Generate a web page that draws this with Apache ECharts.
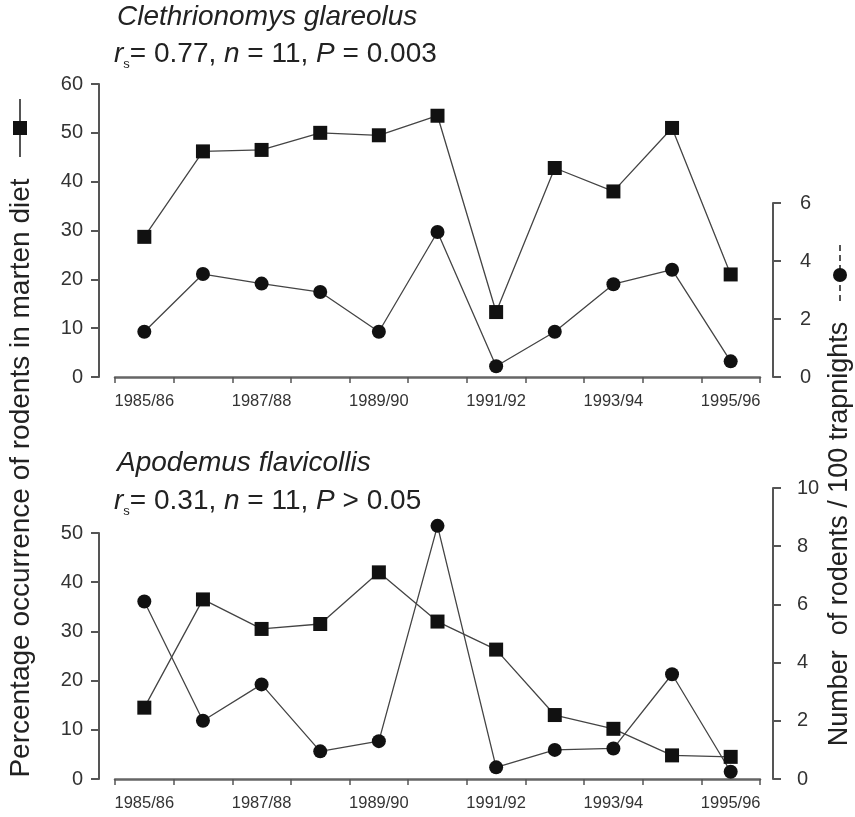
<!DOCTYPE html>
<html>
<head>
<meta charset="utf-8">
<script src="https://cdn.jsdelivr.net/npm/echarts@6/dist/echarts.min.js"></script>
<style>html,body{margin:0;padding:0;background:#fff}#c{width:855px;height:817px}</style>
</head>
<body>
<div id="c"></div>
<script>
const seasons = ['1985/86','1986/87','1987/88','1988/89','1989/90','1990/91','1991/92','1992/93','1993/94','1994/95','1995/96'];
// Clethrionomys glareolus
const clethDiet = [28.7, 46.2, 46.5, 50.0, 49.5, 53.5, 13.3, 42.8, 38.0, 51.0, 21.0];
const clethTrap = [1.56, 3.55, 3.22, 2.93, 1.56, 5.0, 0.37, 1.56, 3.2, 3.7, 0.54];
// Apodemus flavicollis
const apoDiet = [14.5, 36.5, 30.5, 31.5, 42.0, 32.0, 26.3, 13.0, 10.2, 4.8, 4.5];
const apoTrap = [6.1, 2.0, 3.25, 0.95, 1.3, 8.7, 0.4, 1.0, 1.05, 3.6, 0.25];

const FF = '"Liberation Sans", Arial, sans-serif';
const TXT = '#222';
const AX = '#555';

function xAxis(grid, show) {
  return {
    gridIndex: grid, type: 'category', data: seasons, show: show, boundaryGap: true,
    position: 'bottom', offset: 2,
    axisLine: {show: true, lineStyle: {color: '#666', width: 2.5}},
    axisTick: {show: true, interval: 0, length: 6, lineStyle: {color: '#555', width: 1.5}},
    axisLabel: {interval: 1, margin: 14, fontSize: 16.5, color: '#333', fontFamily: FF},
    splitLine: {show: false}
  };
}
function yAxis(grid, pos, max, interval, margin) {
  return {
    gridIndex: grid, type: 'value', min: 0, max: max, interval: interval,
    position: pos, offset: pos === 'left' ? 16 : 13,
    axisLine: {show: true, lineStyle: {color: AX, width: 2}},
    axisTick: {show: true, length: 8, lineStyle: {color: AX, width: 2}},
    axisLabel: {margin: margin, fontSize: 20, color: '#333', fontFamily: FF},
    splitLine: {show: false}
  };
}
function series(x, y, data, sym) {
  return {
    type: 'line', xAxisIndex: x, yAxisIndex: y, data: data,
    symbol: sym, symbolSize: 14,
    lineStyle: {color: '#444', width: 1.3},
    itemStyle: {color: '#111', borderWidth: 0},
    emphasis: {disabled: true}, animation: false, z: 3
  };
}
const rich = {
  i: {fontStyle: 'italic', fontSize: 28, fontFamily: FF, color: TXT, lineHeight: 33},
  n: {fontSize: 28, fontFamily: FF, color: TXT, lineHeight: 33},
  sub: {fontSize: 13, fontFamily: FF, color: TXT, lineHeight: 33, verticalAlign: 'bottom'}
};

const chart = echarts.init(document.getElementById('c'), null, {renderer: 'canvas'});
chart.setOption({
  backgroundColor: '#fff',
  animation: false,
  title: [
    {left: 117, top: 3, padding: 0, text: 'Clethrionomys glareolus',
     textStyle: {fontStyle: 'italic', fontWeight: 'normal', fontSize: 28, color: TXT, fontFamily: FF}},
    {left: 114, top: 38, padding: 0, text: '{i|r}{sub|s}{n|= 0.77, }{i|n}{n| = 11, }{i|P}{n| = 0.003}',
     textStyle: {fontWeight: 'normal', fontSize: 28, color: TXT, fontFamily: FF, rich: rich}},
    {left: 117, top: 449, padding: 0, text: 'Apodemus flavicollis',
     textStyle: {fontStyle: 'italic', fontWeight: 'normal', fontSize: 28, color: TXT, fontFamily: FF}},
    {left: 114, top: 485, padding: 0, text: '{i|r}{sub|s}{n|= 0.31, }{i|n}{n| = 11, }{i|P}{n| > 0.05}',
     textStyle: {fontWeight: 'normal', fontSize: 28, color: TXT, fontFamily: FF, rich: rich}}
  ],
  grid: [
    {left: 115, right: 95, top: 84, height: 293},
    {left: 115, right: 95, top: 203, height: 174},
    {left: 115, right: 95, top: 533, height: 246},
    {left: 115, right: 95, top: 488, height: 291}
  ],
  xAxis: [xAxis(0, true), xAxis(1, false), xAxis(2, true), xAxis(3, false)],
  yAxis: [
    yAxis(0, 'left', 60, 10, 16),
    yAxis(1, 'right', 6, 2, 27),
    yAxis(2, 'left', 50, 10, 16),
    yAxis(3, 'right', 10, 2, 24)
  ],
  series: [
    series(0, 0, clethDiet, 'rect'),
    series(1, 1, clethTrap, 'circle'),
    series(2, 2, apoDiet, 'rect'),
    series(3, 3, apoTrap, 'circle')
  ],
  graphic: [
    {type: 'text', x: 21, y: 478, rotation: Math.PI / 2, silent: true,
     style: {text: 'Percentage occurrence of rodents in marten diet', fontSize: 28, fontFamily: FF, fill: TXT,
             align: 'center', verticalAlign: 'middle', textAlign: 'center', textVerticalAlign: 'middle'}},
    {type: 'line', shape: {x1: 20, y1: 99, x2: 20, y2: 157}, style: {stroke: AX, lineWidth: 2}, silent: true},
    {type: 'rect', shape: {x: 13, y: 121, width: 14, height: 14}, style: {fill: '#111'}, silent: true},
    {type: 'text', x: 840, y: 534, rotation: Math.PI / 2, silent: true,
     style: {text: 'Number  of rodents / 100 trapnights', fontSize: 27, fontFamily: FF, fill: TXT,
             align: 'center', verticalAlign: 'middle', textAlign: 'center', textVerticalAlign: 'middle'}},
    {type: 'line', shape: {x1: 840, y1: 245, x2: 840, y2: 305}, style: {stroke: AX, lineWidth: 2, lineDash: [6, 4]}, silent: true},
    {type: 'circle', shape: {cx: 840, cy: 275, r: 7}, style: {fill: '#111'}, silent: true}
  ]
});
</script>
</body>
</html>
